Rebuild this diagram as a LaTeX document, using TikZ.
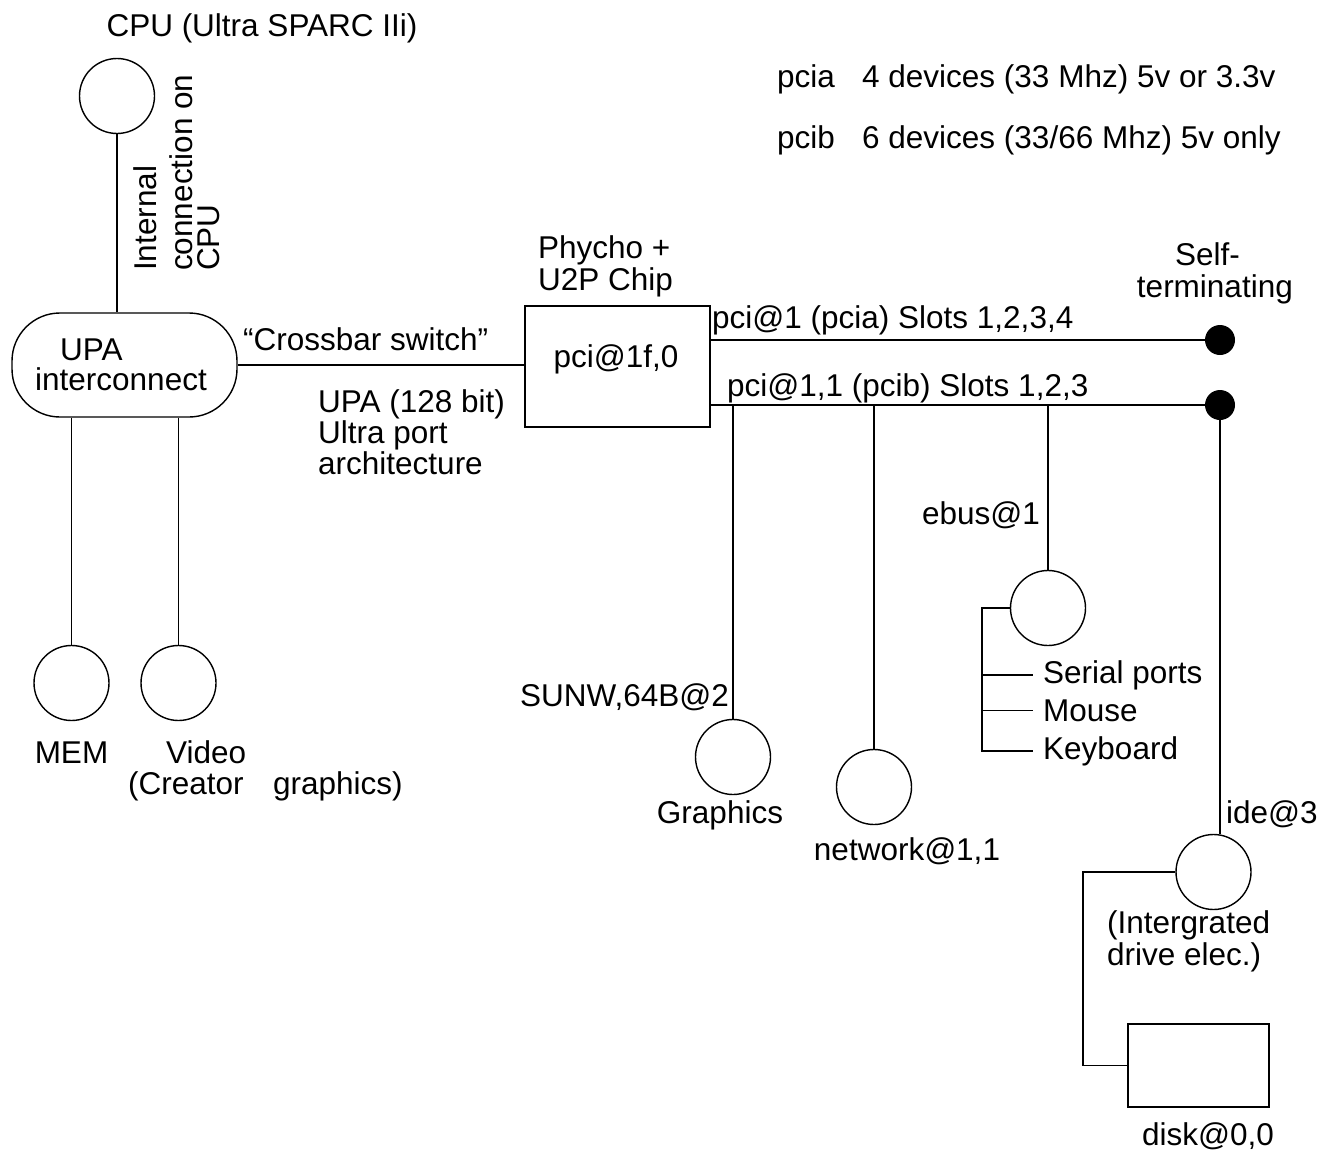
\documentclass[tikz,border=0pt]{standalone}
\usepackage{fontspec}
\setmainfont{Liberation Sans}
\begin{document}
\begin{tikzpicture}[x=1pt, y=-1pt,
  every node/.style={inner sep=0pt},
  font=\fontsize{31.5pt}{33pt}\selectfont,
  conn/.style={line width=1.4pt},
  port/.style={circle, draw, line width=1.4pt, minimum size=75pt},
  term/.style={circle, fill=black, minimum size=30pt},
  box/.style={draw, line width=1.4pt},
  lbl/.style={anchor=base west},
  lblc/.style={anchor=base},
  lble/.style={anchor=base east}]
\useasboundingbox (0,0) rectangle (1323,1151);

% --- CPU and UPA interconnect ---
\node[lblc] (cputitle) at (262,36) {CPU (Ultra SPARC IIi)};
\node[port] (cpu) at (117,96) {};
\node[box, rounded corners=48pt, minimum width=225pt, minimum height=104pt] (upa) at (124.5,365) {};
\node[lbl] (upa1) at (60,360) {UPA};
\node[lbl] (upa2) at (35,390) {interconnect};
\draw[conn] (cpu) -- (cpu |- upa.north);
\node[lbl, rotate=90] (int1) at (156,271) {Internal};
\node[lbl, rotate=90] (int2) at (192,271) {connection on};
\node[lbl, rotate=90] (int3) at (219,271) {CPU};

% --- memory and video on the UPA ---
\node[port] (mem) at (71.5,683) {};
\node[port] (video) at (178.5,683) {};
\draw[conn] (mem.north |- upa.south) -- (mem.north);
\draw[conn] (video.north |- upa.south) -- (video.north);
\node[lblc] (memlbl) at (71.5,763) {MEM};
\node[lbl] (vidlbl) at (166,763) {Video};
\node[lbl] (vidlbl2) at (128,794) {(Creator\hspace{29.5pt}graphics)};

% --- PCI host bridge ---
\node[box, minimum width=185pt, minimum height=121pt] (pci) at (617.5,366.5) {};
\node[lblc] (pcilbl) at (616,367) {pci@1f,0};
\node[lbl] (psy1) at (538,258) {Phycho +};
\node[lbl] (psy2) at (538,290) {U2P Chip};
\draw[conn] (upa.east) -- (upa.east -| pci.west);
\node[lbl] (xbar) at (243,350) {“Crossbar switch”};
\node[lbl] (upab1) at (318,412) {UPA (128 bit)};
\node[lbl] (upab2) at (318,443) {Ultra port};
\node[lbl] (upab3) at (318,474) {architecture};

% --- the two PCI buses ---
\node[term] (dota) at (1220,340) {};
\node[term] (dotb) at (1220,405) {};
\draw[conn] (pci.east |- dota) -- (dota);
\draw[conn] (pci.east |- dotb) -- (dotb);
\node[lbl] (busa) at (712,328) {pci@1 (pcia) Slots 1,2,3,4};
\node[lbl] (busb) at (727,396) {pci@1,1 (pcib) Slots 1,2,3};
\node[lbl] (self1) at (1175,265) {Self-};
\node[lble] (self2) at (1293,297) {terminating};

% --- devices on pcib ---
\node[port] (gfx) at (733,757) {};
\draw[conn] (gfx.north |- dotb) -- (gfx.north);
\node[lble] (gfxaddr) at (729,706) {SUNW,64B@2};
\node[lblc] (gfxlbl) at (720,823) {Graphics};

\node[port] (net) at (874,787) {};
\draw[conn] (net.north |- dotb) -- (net.north);
\node[lblc] (netlbl) at (907,860) {network@1,1};

\node[port] (ebus) at (1048,608) {};
\draw[conn] (ebus.north |- dotb) -- (ebus.north);
\node[lble] (ebuslbl) at (1040,524) {ebus@1};
\node[lbl] (serial) at (1043,683) {Serial ports};
\node[lbl] (mouse) at (1043,721) {Mouse};
\node[lbl] (kbd) at (1043,759) {Keyboard};
\coordinate (brk) at (982,608);
\draw[conn] (ebus.west) -- (brk) -- (brk |- kbd.west) -- ([xshift=-10pt]kbd.west);
\draw[conn] (brk |- serial.west) -- ([xshift=-10pt]serial.west);
\draw[conn] (brk |- mouse.west) -- ([xshift=-10pt]mouse.west);

\node[port] (ide) at (1213.5,872) {};
\draw[conn] (dotb) -- (dotb |- ide.north);
\node[lbl] (idelbl) at (1226,823) {ide@3};
\node[lbl] (ide1) at (1107,933) {(Intergrated};
\node[lbl] (ide2) at (1107,965) {drive elec.)};
\node[box, minimum width=141pt, minimum height=83pt] (disk) at (1198.5,1065.5) {};
\draw[conn] (ide.west) -- ++(-92.5,0) |- (disk.west);
\node[lbl] (disklbl) at (1142,1145) {disk@0,0};

% --- bus notes ---
\node[lbl] (na) at (777,87) {pcia};
\node[lbl] (na2) at (862,87) {4 devices (33 Mhz) 5v or 3.3v};
\node[lbl] (nb) at (777,148) {pcib};
\node[lbl] (nb2) at (862,148) {6 devices (33/66 Mhz) 5v only};
\end{tikzpicture}
\end{document}
